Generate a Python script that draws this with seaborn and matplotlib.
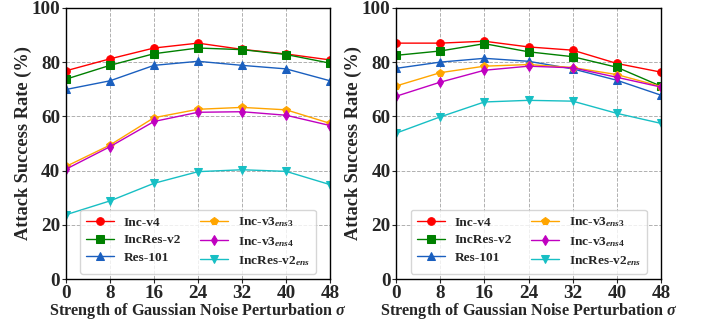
import matplotlib
matplotlib.use("Agg")
import matplotlib.pyplot as plt
import seaborn as sns
import pandas as pd

sigma = [0, 8, 16, 24, 32, 40, 48]
models = ["Inc-v4", "IncRes-v2", "Res-101", r"Inc-v3$_{ens3}$", r"Inc-v3$_{ens4}$", r"IncRes-v2$_{ens}$"]

left_inc_v4 = [76.8, 81.2, 85.2, 87.0, 84.7, 83.0, 80.8]
left_incres_v2 = [73.7, 78.8, 83.1, 85.2, 84.6, 82.8, 79.6]
left_res101 = [69.9, 73.1, 78.8, 80.3, 78.8, 77.5, 73.1]
left_inc_v3_ens3 = [41.5, 49.4, 59.5, 62.6, 63.3, 62.4, 57.4]
left_inc_v3_ens4 = [40.5, 48.8, 58.1, 61.5, 61.7, 60.4, 56.6]
left_incres_v2_ens = [23.7, 28.8, 35.3, 39.6, 40.3, 39.7, 34.8]

right_inc_v4 = [87.0, 87.0, 87.7, 85.6, 84.4, 79.5, 76.3]
right_incres_v2 = [82.5, 84.1, 86.8, 83.8, 82.0, 78.1, 71.1]
right_res101 = [77.7, 80.0, 81.4, 80.3, 77.5, 73.3, 67.8]
right_inc_v3_ens3 = [71.2, 76.1, 78.5, 79.1, 78.0, 75.4, 71.0]
right_inc_v3_ens4 = [67.4, 72.6, 77.0, 78.5, 77.9, 74.4, 70.8]
right_incres_v2_ens = [53.8, 59.8, 65.3, 65.9, 65.6, 61.1, 57.4]

yticks = [0, 20, 40, 60, 80, 100]

colors = ["#ff0000", "#008000", "#1a5fbf", "#ffa500", "#c000c0", "#17bfc4"]
markers = ["o", "s", "^", "p", "d", "v"]

sns.set_style("ticks")
plt.rcParams["font.family"] = ["Liberation Serif", "DejaVu Serif"]
plt.rcParams["font.weight"] = "bold"
plt.rcParams["mathtext.fontset"] = "custom"
plt.rcParams["mathtext.rm"] = "Liberation Serif:bold"
plt.rcParams["mathtext.it"] = "Liberation Serif:italic"

fig = plt.figure(figsize=(7.01, 3.22), dpi=100)
ax1 = fig.add_axes([0.094, 0.1335, 0.377, 0.842])
ax2 = fig.add_axes([0.565, 0.1335, 0.378, 0.842])

left = [left_inc_v4, left_incres_v2, left_res101, left_inc_v3_ens3, left_inc_v3_ens4, left_incres_v2_ens]
right = [right_inc_v4, right_incres_v2, right_res101, right_inc_v3_ens3, right_inc_v3_ens4, right_incres_v2_ens]

for ax, data in [(ax1, left), (ax2, right)]:
    for name, vals, c, m in zip(models, data, colors, markers):
        df = pd.DataFrame({"sigma": sigma, "rate": vals})
        sns.lineplot(data=df, x="sigma", y="rate", ax=ax, color=c, marker=m,
                     markersize=5.5, markeredgecolor=c, linewidth=1.0, label=name)
    ax.set_xlim(0, 48)
    ax.set_ylim(0, 100)
    ax.set_xticks(sigma)
    ax.set_yticks(yticks)
    ax.tick_params(axis="both", labelsize=13.8, length=3, width=0.8, direction="out", pad=1)
    for lbl in ax.get_xticklabels() + ax.get_yticklabels():
        lbl.set_fontweight("bold")
    ax.grid(True, linestyle="--", color="#b0b0b0", linewidth=0.7)
    ax.set_xlabel(r"Strength of Gaussian Noise Perturbation $\sigma$", fontsize=11.7, fontweight="bold", labelpad=-0.5)
    ax.set_ylabel("Attack Success Rate (%)", fontsize=13.2, fontweight="bold", labelpad=0)
    for s in ax.spines.values():
        s.set_linewidth(1.0)
        s.set_color("black")
    leg = ax.legend(loc="lower center", ncol=2, fontsize=9.6, frameon=True,
                    handlelength=2.1, handletextpad=0.75, columnspacing=1.4, borderpad=0.45,
                    labelspacing=0.4, bbox_to_anchor=(0.5, 0.0), borderaxespad=0.4)
    for t in leg.get_texts():
        t.set_fontweight("bold")

fig.savefig("out.png", dpi=100)
